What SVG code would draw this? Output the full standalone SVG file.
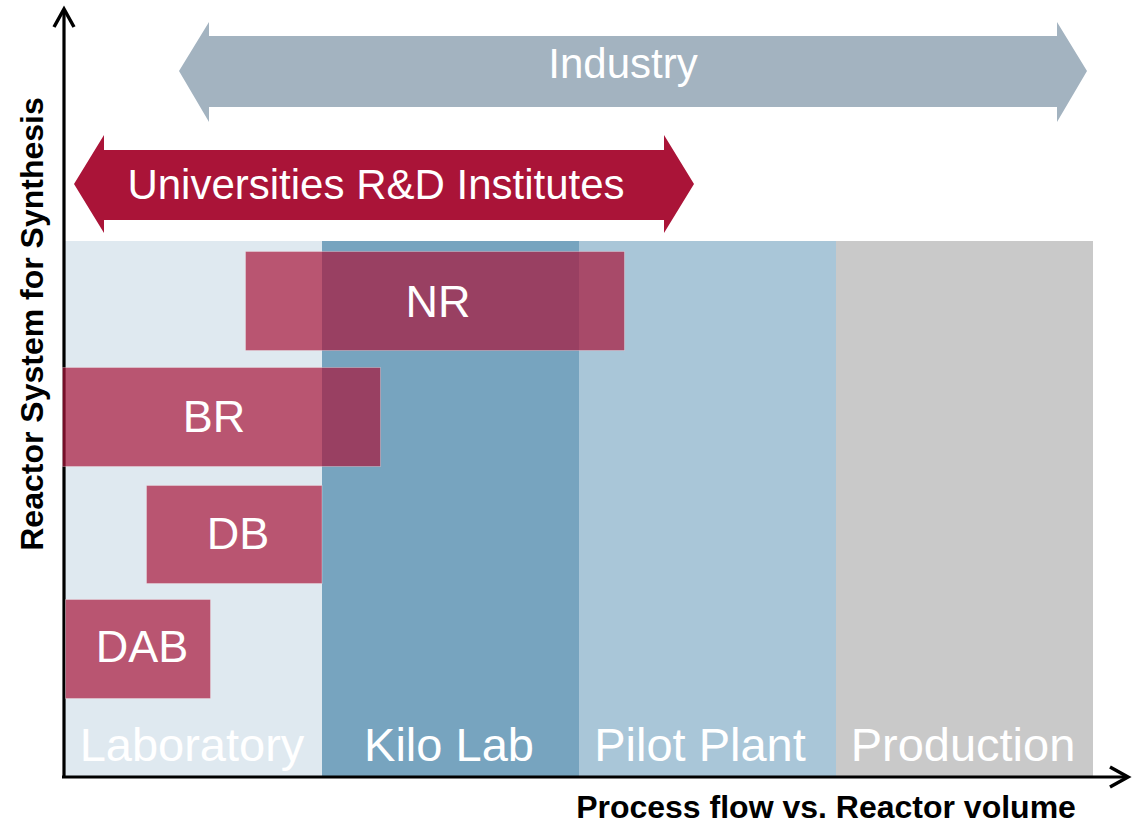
<svg xmlns="http://www.w3.org/2000/svg" width="1134" height="825" viewBox="0 0 1134 825">
  <defs>
    <style>
      text { font-family: "Liberation Sans", Arial, sans-serif; }
      .band-label { font-size: 47px; fill: #ffffff; text-anchor: middle; }
      .reactor { fill: #a8163a; fill-opacity: 0.7; stroke: #ffffff; stroke-opacity: 0.3; stroke-width: 1; }
      .reactor-label { font-size: 45px; fill: #ffffff; text-anchor: middle; }
      .span-label { font-size: 42px; fill: #ffffff; text-anchor: middle; }
      .axis { stroke: #000000; stroke-width: 3.2; fill: none; marker-end: url(#chevron); }
      .axis-title { font-size: 32px; font-weight: bold; fill: #000000; text-anchor: middle; }
    </style>
    <!-- open chevron head for both axes -->
    <marker id="chevron" markerUnits="userSpaceOnUse" markerWidth="40" markerHeight="40" refX="0" refY="0" orient="auto" overflow="visible">
      <path d="M-18,-10 L0,0 L-18,10" fill="none" stroke="#000000" stroke-width="3.5" stroke-linejoin="miter"/>
    </marker>
  </defs>

  <rect width="1134" height="825" fill="#ffffff"/>

  <!-- scale bands -->
  <g id="band-laboratory">
    <rect x="65" y="241" width="257" height="535" fill="#dfe9f0"/>
    <text class="band-label" x="192" y="761">Laboratory</text>
  </g>
  <g id="band-kilo-lab">
    <rect x="322" y="241" width="257" height="535" fill="#77a4bf"/>
    <text class="band-label" x="449" y="761">Kilo Lab</text>
  </g>
  <g id="band-pilot-plant">
    <rect x="579" y="241" width="257" height="535" fill="#a9c6d8"/>
    <text class="band-label" x="700" y="761">Pilot Plant</text>
  </g>
  <g id="band-production">
    <rect x="836" y="241" width="257" height="535" fill="#c9c9c9"/>
    <text class="band-label" x="963" y="761">Production</text>
  </g>

  <!-- axes -->
  <g id="connectors">
    <line class="axis" x1="64" y1="778" x2="64" y2="9"/>
    <line class="axis" x1="62" y1="777" x2="1128" y2="777"/>
  </g>

  <!-- range arrows -->
  <g id="industry">
    <polygon points="179,71 209,22 209,36 1057,36 1057,22 1087,71 1057,122 1057,107 209,107 209,122" fill="#a3b3c0"/>
    <text class="span-label" x="623" y="78">Industry</text>
  </g>
  <g id="universities">
    <polygon points="74,184 104,135 104,150 664,150 664,135 694,184 664,233 664,220 104,220 104,233" fill="#aa1438"/>
    <text class="span-label" x="376" y="199">Universities R&amp;D Institutes</text>
  </g>

  <!-- reactor systems -->
  <g id="reactor-nr">
    <rect class="reactor" x="245.5" y="251.5" width="379" height="99"/>
    <text class="reactor-label" x="438" y="317">NR</text>
  </g>
  <g id="reactor-br">
    <rect class="reactor" x="62.5" y="367.5" width="318" height="99"/>
    <text class="reactor-label" x="214" y="432">BR</text>
  </g>
  <g id="reactor-db">
    <rect class="reactor" x="146.5" y="485.5" width="175.5" height="98"/>
    <text class="reactor-label" x="238" y="549">DB</text>
  </g>
  <g id="reactor-dab">
    <rect class="reactor" x="65.5" y="599.5" width="145" height="99"/>
    <text class="reactor-label" x="142" y="662">DAB</text>
  </g>

  <!-- axis titles -->
  <text class="axis-title" x="826" y="818">Process flow vs. Reactor volume</text>
  <text class="axis-title" transform="translate(43,324) rotate(-90)">Reactor System for Synthesis</text>
</svg>
